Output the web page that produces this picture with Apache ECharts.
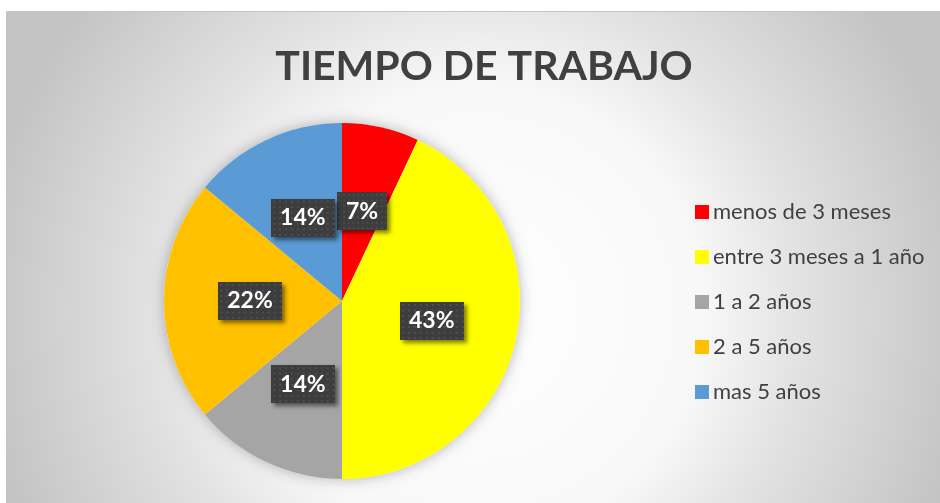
<!DOCTYPE html>
<html>
<head>
<meta charset="utf-8">
<script src="https://cdn.jsdelivr.net/npm/echarts@6/dist/echarts.min.js"></script>
<style>
  html, body { margin: 0; padding: 0; background: #fff; }
  #chart { width: 940px; height: 503px; }
</style>
</head>
<body>
<div id="chart"></div>
<script>
var categories = ['menos de 3 meses', 'entre 3 meses a 1 año', '1 a 2 años', '2 a 5 años', 'mas 5 años'];
var percents = [7, 43, 14, 22, 14];
var colors = ['#ff0000', '#ffff00', '#a5a5a5', '#ffc000', '#5b9bd5'];

// dotted dark box used behind the data labels
function dotted(w, h) {
  var c = document.createElement('canvas');
  c.width = w; c.height = h;
  var ctx = c.getContext('2d');
  ctx.fillStyle = '#3d3d3d';
  ctx.fillRect(0, 0, w, h);
  ctx.fillStyle = '#4f4f4f';
  for (var y = 2; y < h; y += 6) {
    for (var x = 2; x < w; x += 6) {
      ctx.fillRect(x, y, 2, 2);
    }
  }
  return c;
}
var labelBg = dotted(64, 41);

var pieData = [];
for (var i = 0; i < categories.length; i++) {
  pieData.push({ name: categories[i], value: percents[i], itemStyle: { color: colors[i] } });
}

var chart = echarts.init(document.getElementById('chart'));

var option = {
  animation: false,
  graphic: [{
    type: 'rect',
    z: -10,
    silent: true,
    shape: { x: 6.5, y: 11.5, width: 940, height: 500 },
    style: {
      fill: new echarts.graphic.RadialGradient(0.5, 0.6, 1.0, [
        { offset: 0, color: '#ffffff' },
        { offset: 0.45, color: '#f8f8f8' },
        { offset: 0.65, color: '#e2e2e2' },
        { offset: 1, color: '#c3c3c3' }
      ]),
      stroke: '#c4c4c4',
      lineWidth: 1
    }
  }],
  title: {
    text: 'TIEMPO DE TRABAJO',
    left: 479,
    textAlign: 'center',
    top: 37,
    textStyle: {
      fontFamily: 'Lato',
      fontWeight: 'bold',
      fontSize: 41,
      lineHeight: 50,
      color: '#404040'
    }
  },
  legend: {
    data: categories,
    orient: 'vertical',
    left: 690,
    top: 195,
    icon: 'rect',
    itemWidth: 14,
    itemHeight: 14,
    itemGap: 21,
    textStyle: {
      fontFamily: 'Lato',
      fontSize: 22,
      lineHeight: 24,
      color: '#404040',
      padding: [0, 0, 0, -1]
    }
  },
  series: [
    {
      type: 'pie',
      silent: true,
      z: 1,
      center: [342, 301],
      radius: 178,
      label: { show: false },
      labelLine: { show: false },
      itemStyle: {
        color: '#ffffff',
        shadowBlur: 14,
        shadowColor: 'rgba(0,0,0,0.28)'
      },
      data: [{ value: 100 }]
    },
    {
      name: 'Tiempo de trabajo',
      type: 'pie',
      z: 2,
      center: [342, 301],
      radius: 178,
      startAngle: 90,
      clockwise: true,
      itemStyle: { borderWidth: 0 },
      label: {
        show: true,
        position: 'inside',
        formatter: '{c}%',
        fontFamily: 'Lato',
        fontWeight: 'bold',
        fontSize: 23,
        color: '#ffffff',
        backgroundColor: { image: labelBg },
        padding: [8, 9, 7, 9],
        shadowColor: 'rgba(0,0,0,0.5)',
        shadowBlur: 4,
        shadowOffsetX: 3,
        shadowOffsetY: 3
      },
      labelLine: { show: false },
      data: pieData
    }
  ]
};

chart.setOption(option);
</script>
</body>
</html>
